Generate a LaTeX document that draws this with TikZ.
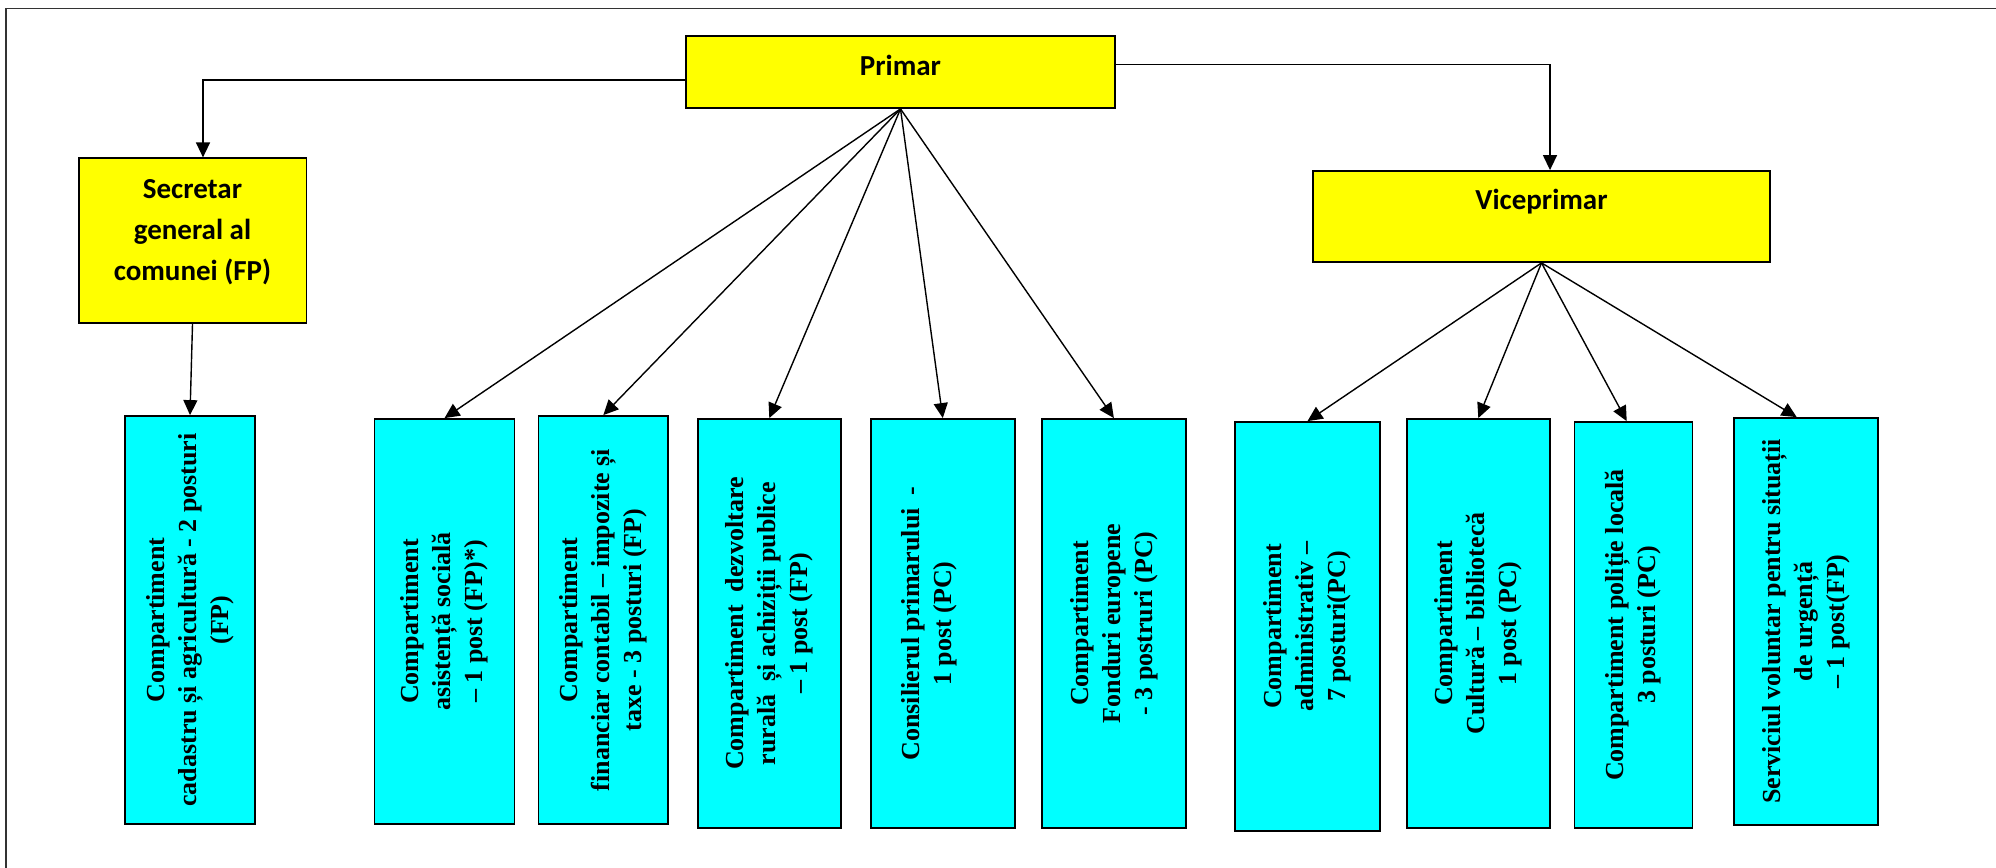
\documentclass[tikz,border=0pt]{standalone}
\usepackage{fontspec}
\setmainfont{Liberation Serif}
\newfontfamily\calibfont{Carlito}
\usetikzlibrary{arrows.meta}
\definecolor{bossfill}{RGB}{255,255,0}
\definecolor{deptfill}{RGB}{0,255,255}
\begin{document}
\begin{tikzpicture}[x=0.5pt,y=-0.5pt,
  boss/.style={draw,line width=0.9pt,fill=bossfill,inner sep=0pt,align=center,
    font=\calibfont\bfseries\fontsize{14.5}{20.45}\selectfont},
  dept/.style={draw,line width=0.9pt,fill=deptfill,inner sep=0pt,align=center,rotate=90,
    font=\bfseries\fontsize{13}{16}\selectfont},
  conn/.style={line width=0.7pt,-{Triangle[length=7.5pt,width=7pt]}},
  frameline/.style={draw=black!80,line width=0.8pt}]
\useasboundingbox (0,0) rectangle (1996,867);
\draw[frameline] (6,8.3) rectangle (2100,950);

\node[boss,minimum width=214.3pt,minimum height=36pt,text height=10pt,text depth=6.1pt] (primar) at (900.5,72) {Primar};
\node[boss,minimum width=113.9pt,minimum height=82.5pt] (sec) at (192.5,240.8) {Secretar\\general al\\comunei (FP)\\[-9.45pt]\mbox{}};
\node[boss,minimum width=228.2pt,minimum height=45.5pt,text height=10pt,text depth=17.35pt] (vice) at (1541.5,216.5) {Viceprimar};

\node[dept,minimum width=204pt,minimum height=65pt] (cad) at (190,620) {Compartiment\\cadastru și agricultură - 2 posturi\\(FP)};
\node[dept,minimum width=202.5pt,minimum height=70pt] (asi) at (444.5,621.5) {Compartiment\\asistență socială\\– 1 post (FP)*)};
\node[dept,minimum width=204pt,minimum height=64.8pt] (fin) at (603.3,620) {Compartiment\\financiar contabil – impozite și\\taxe - 3 posturi (FP)};
\node[dept,minimum width=204.5pt,minimum height=71.3pt] (dez) at (769.3,623.5) {Compartiment\ \ dezvoltare\\rurală\ \ și achiziții publice\\– 1 post (FP)};
\node[dept,minimum width=204.5pt,minimum height=72.1pt] (con) at (942.8,623.5) {Consilierul primarului\ \ -\\1 post (PC)\\\mbox{}};
\node[dept,minimum width=204.5pt,minimum height=71.9pt] (fon) at (1113.9,623.5) {Compartiment\\Fonduri europene\\- 3 postruri (PC)};
\node[dept,minimum width=204.5pt,minimum height=72.5pt] (adm) at (1307.5,626.5) {Compartiment\\administrativ –\\7 posturi(PC)};
\node[dept,minimum width=204.5pt,minimum height=71.3pt] (cul) at (1478.3,623.5) {Compartiment\\Cultură – bibliotecă\\1 post (PC)};
\node[dept,minimum width=203pt,minimum height=59pt] (pol) at (1633.5,625) {Compartiment poliție locală\\3 posturi (PC)};
\node[dept,minimum width=203.5pt,minimum height=72pt] (ser) at (1806,621.5) {Serviciul voluntar pentru situații\\de urgență\\– 1 post(FP)};

\draw[conn] ([yshift=-4pt]primar.west) -| ([xshift=5.25pt]sec.north);
\draw[conn] ([yshift=3.65pt]primar.east) -| ([xshift=4.25pt]vice.north);
\draw[conn] (sec.south) -- (cad.east);
\foreach \b in {asi,fin,dez,con,fon} \draw[conn] (primar.south) -- (\b.east);
\foreach \b in {adm,cul} \draw[conn] (vice.south) -- (\b.east);
\draw[conn] (vice.south) -- ([xshift=-3.4pt]pol.east);
\draw[conn] (vice.south) -- ([xshift=-4.65pt]ser.east);
\end{tikzpicture}
\end{document}
